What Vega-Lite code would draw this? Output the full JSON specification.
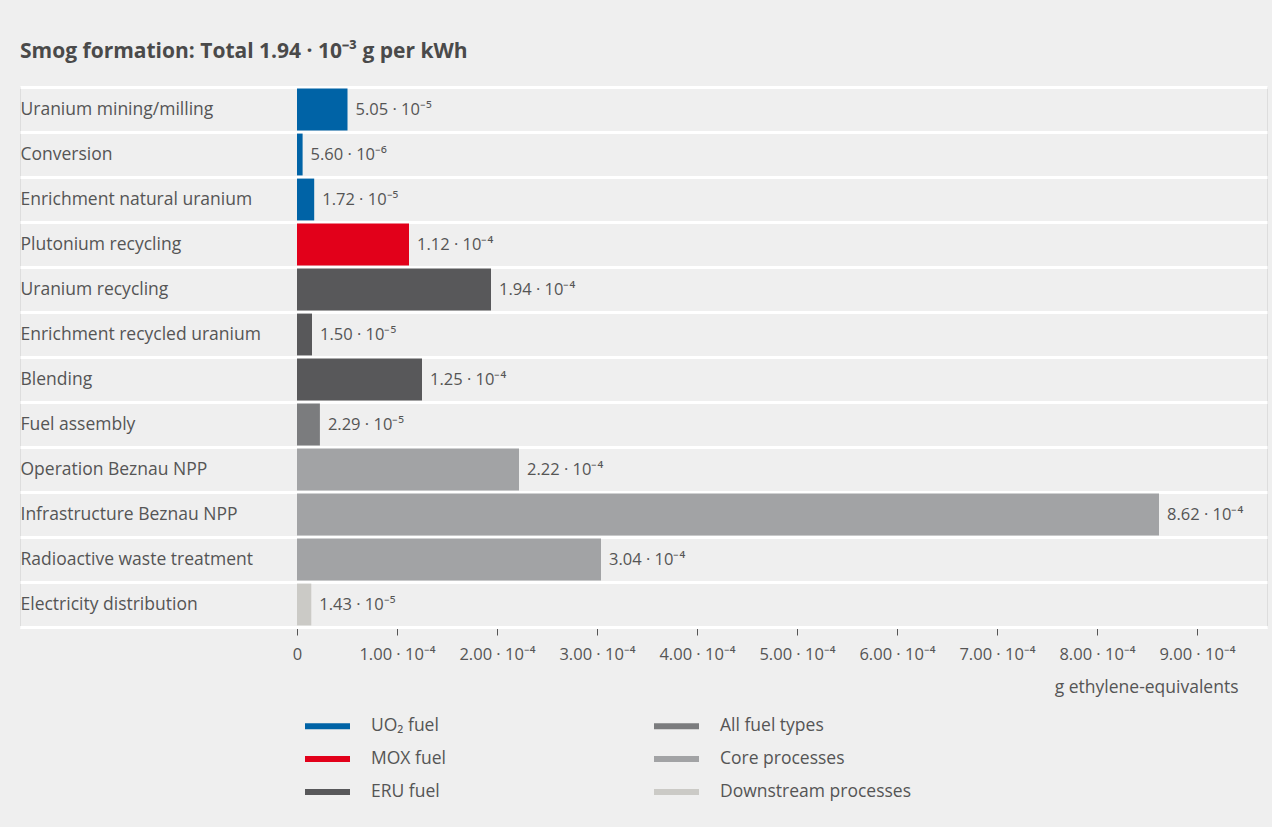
{
  "$schema": "https://vega.github.io/schema/vega-lite/v6.json",
  "autosize": {"type": "none"},
  "width": 1247,
  "height": 540,
  "padding": {"left": 20, "top": 87, "right": 5, "bottom": 200},
  "background": "#efefef",
  "title": {
    "text": "Smog formation: Total 1.94 · 10⁻³ g per kWh",
    "anchor": "start",
    "font": "Open Sans",
    "fontSize": 21,
    "fontWeight": "bold",
    "color": "#4a4a4a",
    "offset": 16
  },
  "data": {
    "values": [
      {"process": "Uranium mining/milling", "value": 5.05e-5, "label": "5.05 · 10⁻⁵", "group": "UO₂ fuel"},
      {"process": "Conversion", "value": 5.6e-6, "label": "5.60 · 10⁻⁶", "group": "UO₂ fuel"},
      {"process": "Enrichment natural uranium", "value": 1.72e-5, "label": "1.72 · 10⁻⁵", "group": "UO₂ fuel"},
      {"process": "Plutonium recycling", "value": 1.12e-4, "label": "1.12 · 10⁻⁴", "group": "MOX fuel"},
      {"process": "Uranium recycling", "value": 1.94e-4, "label": "1.94 · 10⁻⁴", "group": "ERU fuel"},
      {"process": "Enrichment recycled uranium", "value": 1.5e-5, "label": "1.50 · 10⁻⁵", "group": "ERU fuel"},
      {"process": "Blending", "value": 1.25e-4, "label": "1.25 · 10⁻⁴", "group": "ERU fuel"},
      {"process": "Fuel assembly", "value": 2.29e-5, "label": "2.29 · 10⁻⁵", "group": "All fuel types"},
      {"process": "Operation Beznau NPP", "value": 2.22e-4, "label": "2.22 · 10⁻⁴", "group": "Core processes"},
      {"process": "Infrastructure Beznau NPP", "value": 8.62e-4, "label": "8.62 · 10⁻⁴", "group": "Core processes"},
      {"process": "Radioactive waste treatment", "value": 3.04e-4, "label": "3.04 · 10⁻⁴", "group": "Core processes"},
      {"process": "Electricity distribution", "value": 1.43e-5, "label": "1.43 · 10⁻⁵", "group": "Downstream processes"}
    ]
  },
  "encoding": {
    "y": {
      "field": "process",
      "type": "nominal",
      "sort": null,
      "scale": {"paddingInner": 0, "paddingOuter": 0},
      "axis": {
        "title": null,
        "domain": false,
        "ticks": false,
        "tickSize": 0,
        "tickBand": "extent",
        "grid": true,
        "gridColor": "#ffffff",
        "gridWidth": 3,
        "labelAlign": "left",
        "labelPadding": 0,
        "labelFont": "Open Sans",
        "labelFontSize": 17.5,
        "labelColor": "#555555",
        "labelLimit": 400
      }
    },
    "x": {
      "field": "value",
      "type": "quantitative",
      "scale": {"domain": [-0.000277, 0.00097], "nice": false, "zero": false},
      "axis": {
        "title": "g ethylene-equivalents",
        "values": [0, 0.0001, 0.0002, 0.0003, 0.0004, 0.0005, 0.0006, 0.0007, 0.0008, 0.0009],
        "labelExpr": "datum.value == 0 ? '0' : format(datum.value * 10000, '.2f') + ' · 10⁻⁴'",
        "grid": false,
        "domainColor": "#ffffff",
        "domainWidth": 3,
        "tickColor": "#555555",
        "tickSize": 8,
        "tickWidth": 1,
        "labelFont": "Open Sans",
        "labelFontSize": 16.5,
        "labelColor": "#555555",
        "labelPadding": 11,
        "labelFlush": false,
        "labelOverlap": false,
        "titleFont": "Open Sans",
        "titleFontSize": 17.5,
        "titleFontWeight": "normal",
        "titleColor": "#555555",
        "titleAnchor": "start",
        "titleAlign": "right",
        "titleBaseline": "alphabetic",
        "titleX": 1218,
        "titleY": 65
      }
    }
  },
  "layer": [
    {
      "mark": {"type": "bar", "height": {"band": 0.93}},
      "encoding": {
        "color": {
          "field": "group",
          "type": "nominal",
          "scale": {
            "domain": ["UO₂ fuel", "MOX fuel", "ERU fuel", "All fuel types", "Core processes", "Downstream processes"],
            "range": ["#0063a6", "#e2001a", "#58585a", "#7b7c7e", "#a2a3a5", "#cbcac6"]
          },
          "legend": {
            "title": null,
            "orient": "none",
            "legendX": 285,
            "legendY": 629,
            "columns": 2,
            "columnPadding": 208,
            "rowPadding": 14,
            "padding": 0,
            "symbolType": "M-1,-0.3H3.5V0.3H-1Z",
            "symbolSize": 400,
            "symbolStrokeWidth": 0,
            "symbolOpacity": 1,
            "labelOffset": 46,
            "labelFont": "Open Sans",
            "labelFontSize": 17.5,
            "labelColor": "#555555",
            "labelLimit": 300
          }
        }
      }
    },
    {
      "mark": {"type": "text", "align": "left", "baseline": "middle", "dx": 8, "font": "Open Sans", "fontSize": 16.5, "color": "#555555"},
      "encoding": {"text": {"field": "label"}}
    }
  ]
}
